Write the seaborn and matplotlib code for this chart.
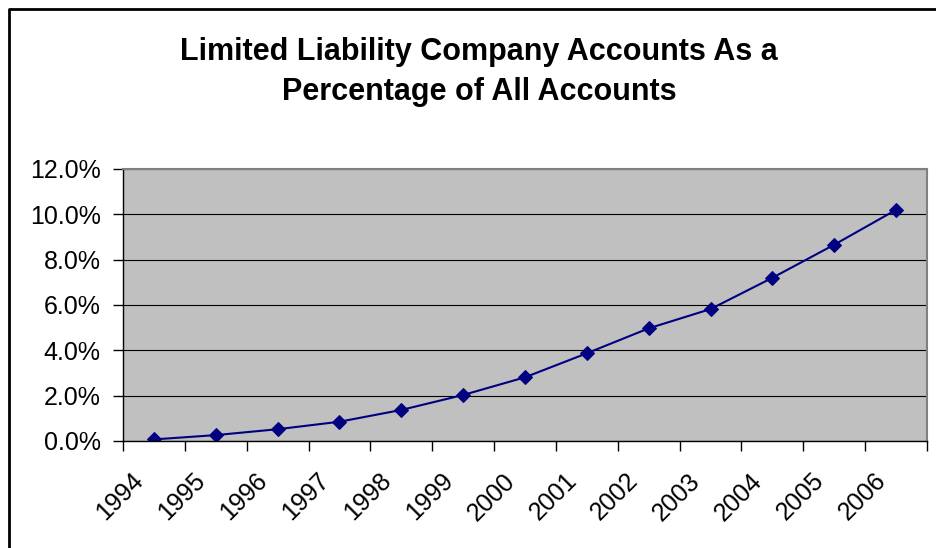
import matplotlib
matplotlib.use("Agg")
import matplotlib.pyplot as plt
import matplotlib.transforms as mtransforms
import seaborn as sns
import pandas as pd
from matplotlib.lines import Line2D
from matplotlib.ticker import FuncFormatter, MultipleLocator

# values (percent of all accounts)
years = [1994, 1995, 1996, 1997, 1998, 1999, 2000, 2001, 2002, 2003, 2004, 2005, 2006]
llc_pct = [0.07, 0.26, 0.52, 0.85, 1.37, 2.03, 2.81, 3.87, 4.97, 5.82, 7.20, 8.66, 10.20]
title = "Limited Liability Company Accounts As a\nPercentage of All Accounts"

sns.set_theme(style="white")
plt.rcParams['font.family'] = ['Liberation Sans', 'DejaVu Sans']
plt.rcParams['text.color'] = 'black'
plt.rcParams['xtick.color'] = 'black'
plt.rcParams['ytick.color'] = 'black'

df = pd.DataFrame({"year": years, "pct": llc_pct})

fig = plt.figure(figsize=(9.36, 5.48), dpi=100)
ax = fig.add_axes([123 / 936, 1 - 441 / 548, 804 / 936, 272 / 548])
ax.set_facecolor("#C0C0C0")

sns.lineplot(data=df, x="year", y="pct", ax=ax, color="#000080", lw=1.5,
             marker="D", markersize=7, markeredgecolor="#000080")

ax.set_xlim(years[0] - 0.5, years[-1] + 0.5)
ax.set_ylim(0, 12)
ax.yaxis.set_major_locator(MultipleLocator(2))
ax.yaxis.set_major_formatter(FuncFormatter(lambda v, p: "%.1f%%" % v))
ax.grid(axis="y", color="black", lw=0.8)
ax.set_axisbelow(True)

# category labels centred, tick marks on the boundaries
ax.set_xticks(years)
ax.set_xticklabels([str(y) for y in years], rotation=45, ha="right",
                   va="center", rotation_mode="anchor")
ax.set_xticks([y + 0.5 for y in [years[0] - 1] + years], minor=True)
ax.tick_params(axis="x", which="major", bottom=True, length=0, pad=26, labelsize=18)
ax.tick_params(axis="x", which="minor", bottom=True, length=7, width=1, direction="out")
ax.tick_params(axis="y", left=True, length=7, width=1, direction="out", pad=9, labelsize=18)
ax.set_xlabel("")
ax.set_ylabel("")

# nudge the rotated labels left so they sit like Excel's
shift = mtransforms.ScaledTranslation(-14 / 100, 0, fig.dpi_scale_trans)
for lab in ax.get_xticklabels():
    lab.set_transform(lab.get_transform() + shift)

for side in ["top", "right"]:
    ax.spines[side].set_color("#808080")
    ax.spines[side].set_linewidth(1.5)
for side in ["left", "bottom"]:
    ax.spines[side].set_color("black")
    ax.spines[side].set_linewidth(1)

fig.text(479 / 936, 1 - 72 / 548, title, ha="center", va="center",
         fontsize=22, fontweight="bold", linespacing=1.4)

# chart border (left and top edges show in the crop)
bx, by = 9 / 936, 1 - 9 / 548
fig.add_artist(Line2D([bx, bx, 1], [0, by, by], transform=fig.transFigure,
                      color="black", lw=2))

fig.savefig("out.png", dpi=100)
